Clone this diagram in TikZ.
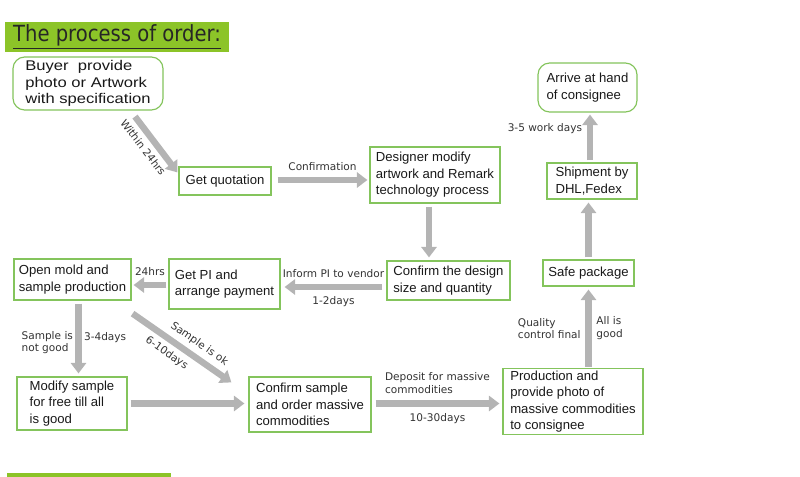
\documentclass[tikz,border=0pt]{standalone}
\usepackage{fontspec}
\setmainfont{Liberation Sans}
\newfontfamily\buyerfont{Liberation Sans}[FakeStretch=1.18]
\newfontfamily\labelfont{DejaVu Sans}
\newfontfamily\titlefont{DejaVu Sans}[FakeStretch=0.88]
\usetikzlibrary{arrows.meta}
\definecolor{boxline}{HTML}{84C45C}
\definecolor{titlebar}{HTML}{8CC428}
\definecolor{arrowgrey}{HTML}{B4B4B4}

\begin{document}
\begin{tikzpicture}[x=0.03cm, y=-0.03cm, font=\fontsize{11.2}{14}\selectfont,
  b/.style={draw=boxline, line width=1pt, fill=white, align=left, inner sep=2pt, text=black!90},
  r/.style={b, rounded corners=10pt},
  a/.style={-{Triangle[length=9pt, width=13pt]}, line width=5.5pt, color=arrowgrey},
  lab/.style={font=\labelfont\fontsize{9}{10.5}\selectfont, text=black!80, align=left, inner sep=1pt}]
\useasboundingbox (0,0) rectangle (800,477);

% ---------------- title
\node[fill=titlebar, minimum width=6.72cm, minimum height=0.9cm, inner sep=0pt] (title) at (117,37)
  {\titlefont\fontsize{19}{20}\selectfont\color{black!85}\underline{The process of order:}};
\fill[titlebar] (7,473) rectangle (171,477);

% ---------------- boxes
\node[r, minimum width=4.5cm, minimum height=1.59cm, font=\buyerfont\fontsize{12}{14}\selectfont] (buyer) at (88,83.5) {Buyer\ \ provide\\photo or Artwork\\with specification};
\node[b, minimum width=2.76cm, minimum height=0.84cm] (quote) at (225,181) {Get quotation};
\node[b, minimum width=3.9cm, minimum height=1.68cm] (design) at (435,175) {Designer modify\\artwork and Remark\\technology process};
\node[r, minimum width=2.97cm, minimum height=1.47cm] (arrive) at (587.5,87.5) {Arrive at hand\\of consignee};
\node[b, minimum width=2.7cm, minimum height=1.08cm] (ship) at (592,181) {Shipment by\\DHL,Fedex};
\node[b, minimum width=2.73cm, minimum height=0.78cm] (safe) at (588.5,273) {Safe package};
\node[b, minimum width=3.69cm, minimum height=1.17cm] (confdesign) at (448.5,280.5) {Confirm the design\\size and quantity};
\node[b, minimum width=3.33cm, minimum height=1.5cm] (pi) at (224.5,284) {Get PI and\\arrange payment};
\node[b, minimum width=3.51cm, minimum height=1.23cm] (mold) at (72.5,279.5) {Open mold and\\sample production};
\node[b, minimum width=3.3cm, minimum height=1.59cm] (modify) at (72,403.5) {Modify sample\\for free till all\\is good};
\node[b, minimum width=3.66cm, minimum height=1.65cm] (confsample) at (310,404.5) {Confirm sample\\and order massive\\commodities};
\node[b, minimum width=4.2cm, minimum height=1.95cm] (prod) at (573,401.5) {Production and\\provide photo of\\massive commodities\\to consignee};

% ---------------- arrows
\draw[a] ([shift={(47,6)}]buyer.south) -- ([shift={(-1,6)}]quote.north west)
  node[pos=0.42, sloped, below=3pt, lab] {Within 24hrs};
\draw[a] ([shift={(6,-1)}]quote.east) -- ([shift={(-2,-1)}]quote.east -| design.west)
  node[midway, above=4pt, lab] {Confirmation};
\draw[a] ([shift={(-6,3)}]design.south) -- ([shift={(-6,-3)}]design.south |- confdesign.north);
\draw[a] ([shift={(-4,6.5)}]confdesign.west) -- ([shift={(4,6.5)}]confdesign.west -| pi.east)
  node[midway, above=4pt, lab] {Inform PI to vendor}
  node[midway, below=4pt, lab] {1-2days};
\draw[a] ([shift={(-2,1)}]pi.west) -- ([shift={(2,1)}]pi.west -| mold.east)
  node[midway, above=4pt, lab] {24hrs};
\draw[a] ([shift={(6,3)}]mold.south) -- ([shift={(6,-3)}]mold.south |- modify.north)
  node[pos=0.56, left=1pt, lab] {Sample is\\not good}
  node[pos=0.48, right=1pt, lab] {3-4days};
\draw[a] ([shift={(1,13)}]mold.south east) -- ([shift={(-17,6)}]confsample.north west)
  node[pos=0.6, sloped, above=3pt, lab] {Sample is ok}
  node[pos=0.42, sloped, below=3pt, lab] {6-10days};
\draw[a] ([shift={(3,0)}]modify.east) -- ([shift={(-4,0)}]modify.east -| confsample.west);
\draw[a] ([shift={(4,-1)}]confsample.east) -- ([shift={(-3,-1)}]confsample.east -| prod.west)
  node[midway, above=5pt, lab] {Deposit for massive\\commodities}
  node[midway, below=5pt, lab] {10-30days};
\draw[a] ([shift={(0,-1)}]prod.north -| safe.south) -- ([shift={(0,3)}]safe.south)
  node[midway, left=3pt, lab] {Quality\\control final}
  node[midway, right=3pt, lab] {All is\\good};
\draw[a] ([shift={(0,-2)}]safe.north) -- ([shift={(0,3)}]safe.north |- ship.south);
\draw[a] ([shift={(-2,-2)}]ship.north) -- ([shift={(-2,2)}]ship.north |- arrive.south)
  node[pos=0.7, left=3pt, lab] {3-5 work days};
\end{tikzpicture}
\end{document}
